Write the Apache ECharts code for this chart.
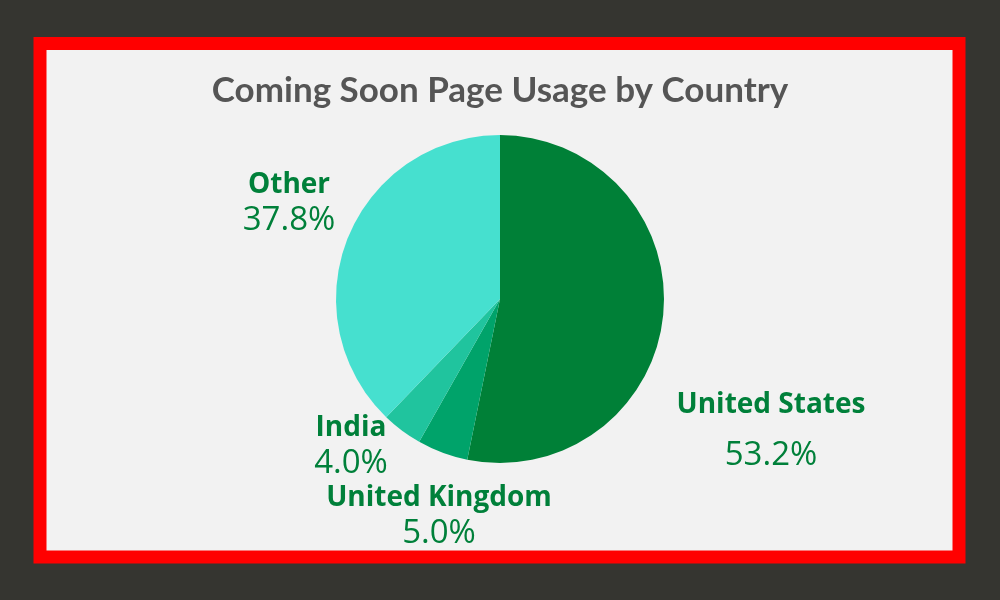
<!DOCTYPE html>
<html>
<head>
<meta charset="utf-8">
<script src="https://cdn.jsdelivr.net/npm/echarts@6/dist/echarts.min.js"></script>
<style>
  html, body { margin: 0; padding: 0; background: #353530; }
  #pie { width: 1000px; height: 600px; }
</style>
</head>
<body>
<div id="pie"></div>
<script>
var countries = ['United States', 'United Kingdom', 'India', 'Other'];
var shares = [53.2, 5.0, 4.0, 37.8];
var sliceColors = ['#008037', '#00a36a', '#20c49e', '#46e0cf'];

// where each label block sits (centre), and whether the value line sits lower
var labelSpots = [[771, 438], [439, 516], [351, 446], [289, 203]];
var wideGap = [true, false, false, false];

var pieChart = echarts.init(document.getElementById('pie'));

var pieOption = {
    backgroundColor: '#353530',
    title: {
        text: 'Coming Soon Page Usage by Country',
        left: 'center',
        top: 68,
        textStyle: {
            fontFamily: 'Lato',
            fontWeight: 'bold',
            fontSize: 35,
            color: '#555555'
        }
    },
    graphic: [{
        type: 'rect',
        z: -10,
        shape: { x: 40, y: 43.5, width: 919, height: 513.5 },
        style: { fill: '#f2f2f2', stroke: '#ff0000', lineWidth: 13 }
    }],
    series: [{
        type: 'pie',
        center: [500, 299],
        radius: [0, 164],
        startAngle: 90,
        clockwise: true,
        silent: true,
        labelLine: { show: false },
        label: {
            show: true,
            position: 'outside',
            color: '#00803a',
            fontFamily: 'Open Sans',
            align: 'center',
            formatter: function (p) {
                var v = shares[p.dataIndex].toFixed(1) + '%';
                return '{n|' + p.name + '}\n{' + (wideGap[p.dataIndex] ? 'w' : 'v') + '|' + v + '}';
            },
            rich: {
                n: { fontFamily: 'Open Sans', fontWeight: 'bold', fontSize: 28, lineHeight: 35, color: '#00803a', align: 'center' },
                v: { fontFamily: 'Open Sans', fontSize: 33, lineHeight: 35, color: '#00803a', align: 'center' },
                w: { fontFamily: 'Open Sans', fontSize: 33, lineHeight: 65, color: '#00803a', align: 'center' }
            }
        },
        labelLayout: function (params) {
            var spot = labelSpots[params.dataIndex];
            return { x: spot[0], y: spot[1], align: 'center', verticalAlign: 'middle' };
        },
        data: countries.map(function (name, i) {
            return { name: name, value: shares[i], itemStyle: { color: sliceColors[i] } };
        })
    }]
};

pieChart.setOption(pieOption);
</script>
</body>
</html>
